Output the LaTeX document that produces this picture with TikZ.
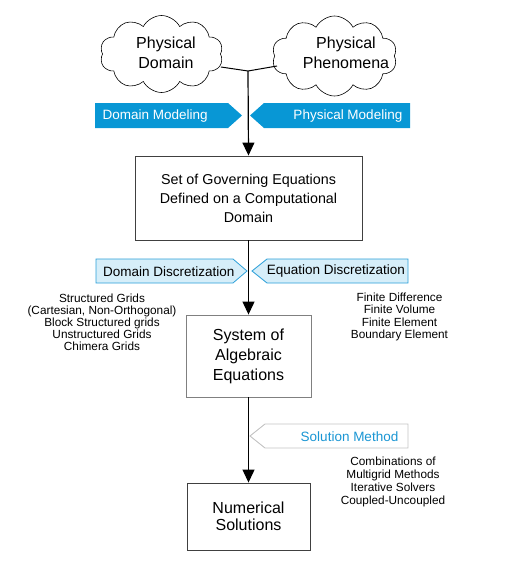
\documentclass[tikz,border=0pt]{standalone}
\usepackage{fontspec}
\setmainfont{Liberation Sans}
\usetikzlibrary{shapes.symbols,arrows.meta}
\definecolor{dblue}{HTML}{0897D5}
\definecolor{lbluefill}{HTML}{D6EEF9}
\definecolor{lblueline}{HTML}{2A9FD8}
\definecolor{solline}{HTML}{C4C4C4}
\definecolor{soltext}{HTML}{1A96D4}
\begin{document}
\begin{tikzpicture}[x=1pt,y=-1pt,
  cloudbox/.style={cloud, draw=black, line width=0.6pt, cloud puffs=10, cloud puff arc=125, cloud ignores aspect, inner sep=0pt},
  cloudtxt/.style={align=center, font=\fontsize{16}{20}\selectfont, inner sep=0pt},
  boxa/.style={draw=black!75, line width=0.9pt, align=center, inner sep=0pt},
  lab/.style={font=\fontsize{13.5}{16}\selectfont, inner sep=0pt},
  listtxt/.style={align=center, inner sep=0pt},
  darklab/.style={fill=dblue, draw=none},
  lightlab/.style={fill=lbluefill, draw=lblueline, line width=0.8pt},
  sollab/.style={fill=white, draw=solline, line width=0.9pt},
  conn/.style={draw=black, line width=1.2pt},
  arr/.style={conn, -{Triangle[width=12pt,length=13pt]}}
]
\useasboundingbox (0,0) rectangle (521,568);

% clouds
\node[cloudbox, minimum width=123pt, minimum height=77pt] (c1) at (161.5,54) {};
\node[cloudtxt] (t1) at (166,53) {Physical\\Domain};
\node[cloudbox, minimum width=125pt, minimum height=80pt] (c2) at (334.5,56) {};
\node[cloudtxt] (t2) at (346,53) {Physical\\Phenomena};

% boxes
\node[boxa, minimum width=227pt, minimum height=84pt, font=\fontsize{14.3}{19}\selectfont] (b1) at (248.5,198)
  {Set of Governing Equations\\Defined on a Computational\\Domain};
\node[boxa, draw=black!50, minimum width=125pt, minimum height=82pt, font=\fontsize{16}{20}\selectfont] (b2) at (248.5,356)
  {System of\\Algebraic\\Equations};
\node[boxa, minimum width=123pt, minimum height=67pt, font=\fontsize{16}{17.5}\selectfont] (b3) at (248.5,516.5)
  {Numerical\\Solutions};

% connectors
\coordinate (j) at (248,71);
\coordinate (a1) at (221,67);
\coordinate (a2) at (277,66);
\draw[conn, line width=1pt] (a1) -- (j) -- (a2);

% labels (drawn before arrows so the line sits on top)
\path[darklab] (95,103) -- (228,103) -- (242,115.5) -- (228,128) -- (95,128) -- cycle;
\node[lab, anchor=west, text=white] (dm) at (102.5,116.5) {Domain Modeling};
\path[darklab] (250,115.5) -- (264,103) -- (410,103) -- (410,128) -- (264,128) -- cycle;
\node[lab, anchor=east, text=white] (pm) at (402.5,116) {Physical Modeling};

\path[lightlab] (96,259) -- (233,259) -- (247,271) -- (233,283) -- (96,283) -- cycle;
\node[lab, anchor=west] (dd) at (103,271.5) {Domain Discretization};
\path[lightlab] (252,271) -- (267,259) -- (408,259) -- (408,283) -- (267,283) -- cycle;
\node[lab] (ed) at (336,271.5) {Equation Discretization};

\path[sollab] (250,436) -- (265,424) -- (408,424) -- (408,448) -- (265,448) -- cycle;
\node[lab, anchor=east, text=soltext] (sm) at (398.5,436.5) {Solution Method};

\draw[arr] (j) -- (b1.north);
\draw[arr] (b1.south) -- (b2.north);
\draw[arr] (b2.south) -- (b3.north);

% lists
\node[listtxt, font=\fontsize{11.8}{11.9}\selectfont] (l1) at (102,322)
  {Structured Grids\\(Cartesian, Non-Orthogonal)\\Block Structured grids\\Unstructured Grids\\Chimera Grids};
\node[listtxt, font=\fontsize{11.8}{12.6}\selectfont] (l2) at (399.5,317)
  {Finite Difference\\Finite Volume\\Finite Element\\Boundary Element};
\node[listtxt, font=\fontsize{11.8}{13}\selectfont] (l3) at (393,481.5)
  {Combinations of\\Multigrid Methods\\Iterative Solvers\\Coupled-Uncoupled};
\end{tikzpicture}
\end{document}
